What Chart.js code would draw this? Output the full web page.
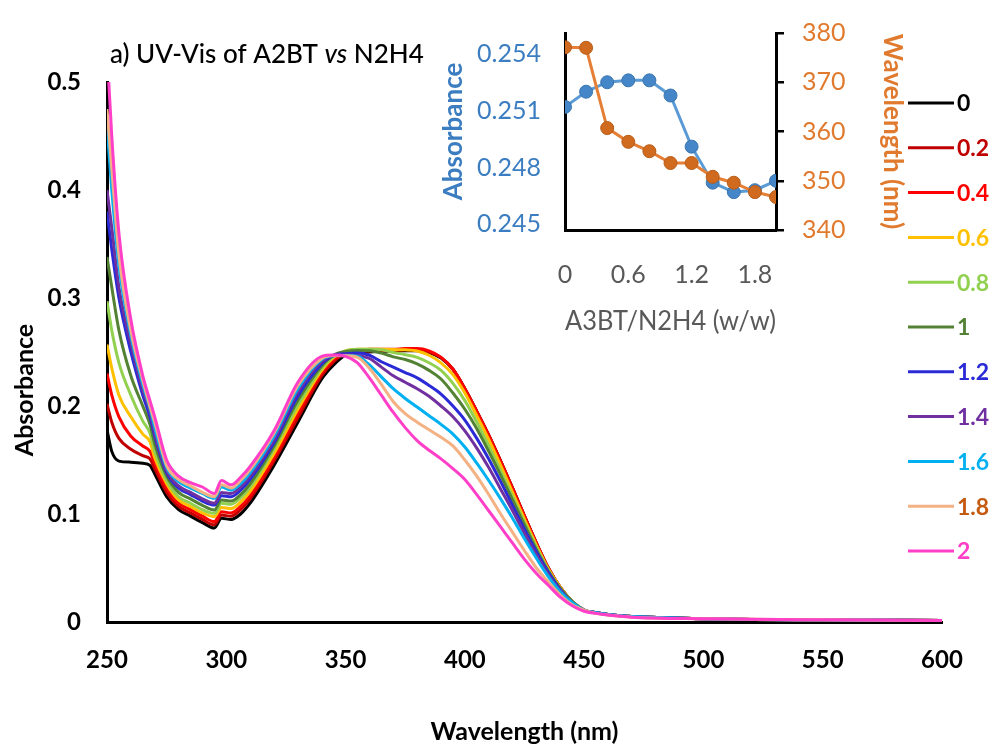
<!DOCTYPE html>
<html>
<head>
<meta charset="utf-8">
<script src="https://cdn.jsdelivr.net/npm/chart.js@4.4.1/dist/chart.umd.min.js"></script>
<style>
  html, body { margin: 0; padding: 0; background: #ffffff; }
  #wrap { position: relative; width: 996px; height: 749px; overflow: hidden; background: #fff; }
  #main { position: absolute; left: 0; top: 0; }
  #inset { position: absolute; left: 430px; top: 10px; }
</style>
</head>
<body>
<div id="wrap">
  <canvas id="main" width="996" height="749"></canvas>
  <canvas id="inset" width="490" height="330"></canvas>
</div>
<script>
// ---------------- DATA ----------------
const wavelengths = [250, 252, 255, 260, 265, 268, 270, 275, 280, 285, 290, 295, 298, 302, 306, 310, 320, 330, 340, 345, 350, 355, 360, 365, 370, 375, 380, 385, 390, 395, 400, 405, 410, 415, 420, 425, 430, 435, 440, 445, 450, 455, 460, 470, 500, 550, 600];

const ratioLabels = ['0', '0.2', '0.4', '0.6', '0.8', '1', '1.2', '1.4', '1.6', '1.8', '2'];

const absRatio0  = [0.178, 0.158, 0.149, 0.148, 0.147, 0.145, 0.137, 0.116, 0.104, 0.098, 0.092, 0.087, 0.096, 0.095, 0.100, 0.110, 0.145, 0.185, 0.225, 0.238, 0.247, 0.249, 0.250, 0.2505, 0.251, 0.2512, 0.2512, 0.2495, 0.2445, 0.234, 0.216, 0.195, 0.173, 0.149, 0.124, 0.098, 0.073, 0.050, 0.032, 0.019, 0.011, 0.0085, 0.007, 0.005, 0.003, 0.002, 0.0015];
const absRatio02 = [0.202, 0.185, 0.170, 0.160, 0.154, 0.151, 0.142, 0.120, 0.107, 0.101, 0.095, 0.090, 0.099, 0.098, 0.104, 0.114, 0.149, 0.189, 0.228, 0.241, 0.249, 0.2505, 0.251, 0.2512, 0.2515, 0.252, 0.252, 0.250, 0.245, 0.234, 0.216, 0.195, 0.173, 0.149, 0.124, 0.098, 0.073, 0.050, 0.032, 0.019, 0.011, 0.0085, 0.007, 0.005, 0.003, 0.002, 0.0015];
const absRatio04 = [0.230, 0.210, 0.190, 0.172, 0.163, 0.158, 0.147, 0.124, 0.110, 0.104, 0.098, 0.093, 0.102, 0.101, 0.107, 0.117, 0.152, 0.193, 0.231, 0.243, 0.2505, 0.2515, 0.2525, 0.2525, 0.2525, 0.2532, 0.2532, 0.251, 0.245, 0.234, 0.216, 0.195, 0.173, 0.149, 0.124, 0.098, 0.073, 0.050, 0.032, 0.019, 0.011, 0.0085, 0.007, 0.005, 0.003, 0.002, 0.0015];
const absRatio06 = [0.257, 0.235, 0.210, 0.190, 0.174, 0.167, 0.152, 0.128, 0.113, 0.107, 0.101, 0.0975, 0.106, 0.105, 0.111, 0.121, 0.156, 0.197, 0.233, 0.245, 0.251, 0.2525, 0.2526, 0.2525, 0.2522, 0.252, 0.251, 0.247, 0.240, 0.229, 0.212, 0.191, 0.169, 0.145, 0.120, 0.095, 0.071, 0.049, 0.032, 0.019, 0.011, 0.0085, 0.007, 0.005, 0.003, 0.002, 0.0015];
const absRatio08 = [0.297, 0.270, 0.240, 0.210, 0.186, 0.175, 0.158, 0.131, 0.116, 0.110, 0.104, 0.1006, 0.110, 0.109, 0.115, 0.125, 0.160, 0.201, 0.235, 0.246, 0.251, 0.2525, 0.2526, 0.252, 0.2495, 0.2475, 0.245, 0.240, 0.233, 0.221, 0.205, 0.185, 0.163, 0.140, 0.116, 0.092, 0.069, 0.048, 0.031, 0.019, 0.011, 0.0085, 0.007, 0.005, 0.003, 0.002, 0.0015];
const absRatio1  = [0.338, 0.310, 0.270, 0.228, 0.200, 0.183, 0.165, 0.135, 0.120, 0.114, 0.108, 0.1037, 0.113, 0.112, 0.118, 0.128, 0.163, 0.205, 0.237, 0.247, 0.2505, 0.2515, 0.2512, 0.249, 0.2455, 0.243, 0.239, 0.233, 0.225, 0.212, 0.197, 0.179, 0.158, 0.136, 0.113, 0.090, 0.067, 0.047, 0.031, 0.019, 0.011, 0.0085, 0.007, 0.005, 0.003, 0.002, 0.0015];
const absRatio12 = [0.380, 0.345, 0.300, 0.250, 0.210, 0.190, 0.172, 0.138, 0.124, 0.118, 0.112, 0.1083, 0.117, 0.116, 0.122, 0.132, 0.166, 0.209, 0.239, 0.247, 0.2485, 0.249, 0.247, 0.241, 0.236, 0.231, 0.226, 0.219, 0.211, 0.200, 0.187, 0.170, 0.151, 0.130, 0.108, 0.086, 0.065, 0.046, 0.030, 0.018, 0.011, 0.0085, 0.007, 0.005, 0.003, 0.002, 0.0015];
const absRatio14 = [0.400, 0.365, 0.310, 0.258, 0.215, 0.195, 0.175, 0.140, 0.126, 0.120, 0.114, 0.110, 0.120, 0.119, 0.125, 0.135, 0.169, 0.213, 0.241, 0.247, 0.2472, 0.2465, 0.244, 0.236, 0.228, 0.222, 0.216, 0.209, 0.200, 0.190, 0.177, 0.161, 0.143, 0.123, 0.103, 0.082, 0.062, 0.044, 0.029, 0.018, 0.011, 0.0085, 0.007, 0.005, 0.003, 0.002, 0.0015];
const absRatio16 = [0.460, 0.400, 0.330, 0.265, 0.220, 0.198, 0.180, 0.143, 0.130, 0.124, 0.119, 0.1145, 0.125, 0.122, 0.128, 0.138, 0.172, 0.216, 0.243, 0.2465, 0.2467, 0.246, 0.238, 0.227, 0.216, 0.207, 0.199, 0.191, 0.183, 0.174, 0.162, 0.147, 0.131, 0.114, 0.096, 0.077, 0.059, 0.042, 0.028, 0.018, 0.011, 0.0085, 0.007, 0.005, 0.003, 0.002, 0.0015];
const absRatio18 = [0.475, 0.420, 0.340, 0.270, 0.224, 0.200, 0.185, 0.145, 0.132, 0.126, 0.120, 0.116, 0.127, 0.124, 0.131, 0.141, 0.175, 0.219, 0.244, 0.2467, 0.2465, 0.245, 0.235, 0.220, 0.204, 0.193, 0.185, 0.178, 0.171, 0.163, 0.150, 0.135, 0.118, 0.100, 0.083, 0.066, 0.050, 0.037, 0.025, 0.016, 0.011, 0.008, 0.0065, 0.0045, 0.003, 0.002, 0.0015];
const absRatio2  = [0.530, 0.450, 0.360, 0.280, 0.228, 0.205, 0.190, 0.150, 0.135, 0.129, 0.125, 0.119, 0.131, 0.127, 0.134, 0.144, 0.177, 0.222, 0.246, 0.2473, 0.246, 0.240, 0.226, 0.210, 0.194, 0.180, 0.168, 0.159, 0.151, 0.142, 0.132, 0.118, 0.103, 0.088, 0.073, 0.058, 0.045, 0.034, 0.023, 0.015, 0.010, 0.008, 0.0065, 0.0045, 0.003, 0.002, 0.0015];

const xTicksMain = [250, 300, 350, 400, 450, 500, 550, 600];
const yTicksMain = [0, 0.1, 0.2, 0.3, 0.4, 0.5];

// inset data
const insetRatio      = [0, 0.2, 0.4, 0.6, 0.8, 1.0, 1.2, 1.4, 1.6, 1.8, 2.0];
const insetAbsorbance = [0.2512, 0.2520, 0.2525, 0.2526, 0.2526, 0.2518, 0.2491, 0.2472, 0.2467, 0.2468, 0.2473];
const insetWavelength = [377.1, 377.0, 360.7, 357.9, 356.0, 353.6, 353.6, 350.8, 349.6, 347.7, 346.7];
const insetXTicks   = [0, 0.6, 1.2, 1.8];
const insetAbsTicks = [0.245, 0.248, 0.251, 0.254];
const insetWlTicks  = [340, 350, 360, 370, 380];

// ---------------- STYLES ----------------
const FONT = 'Lato, "Open Sans", sans-serif';
const allSeries = [absRatio0, absRatio02, absRatio04, absRatio06, absRatio08, absRatio1, absRatio12, absRatio14, absRatio16, absRatio18, absRatio2];
const lineColors = ['#000000', '#c00000', '#ff0000', '#ffc000', '#92d050', '#548235', '#2a2ad6', '#7030a0', '#00b0f0', '#f4b183', '#ff3fc8'];
const textColors = ['#000000', '#c00000', '#ff0000', '#ffc000', '#92d050', '#548235', '#2a2ad6', '#7030a0', '#00b0f0', '#c55a11', '#ff3fc8'];

const annotPlugin = {
  id: 'annot',
  afterDraw(chart) {
    const ctx = chart.ctx;
    ctx.save();
    // title with italic "vs"
    ctx.textBaseline = 'alphabetic';
    ctx.textAlign = 'left';
    ctx.fillStyle = '#000';
    let x = 110;
    const yb = 63;
    const parts = [['a) UV-Vis of A2BT ', 'normal'], ['vs', 'italic'], [' N2H4', 'normal']];
    for (const [t, st] of parts) {
      ctx.font = st + ' 500 26px ' + FONT;
      ctx.fillText(t, x, yb);
      x += ctx.measureText(t).width;
    }
    // y axis title
    ctx.save();
    ctx.translate(25, 390);
    ctx.rotate(-Math.PI / 2);
    ctx.textAlign = 'center';
    ctx.textBaseline = 'middle';
    ctx.font = 'bold 25px ' + FONT;
    ctx.fillText('Absorbance', 0, 0);
    ctx.restore();
    // legend
    ctx.font = 'bold 23px ' + FONT;
    ctx.textBaseline = 'middle';
    for (let i = 0; i < ratioLabels.length; i++) {
      const y = 103 + i * 44.8;
      ctx.strokeStyle = lineColors[i];
      ctx.lineWidth = 3;
      ctx.beginPath();
      ctx.moveTo(908, y);
      ctx.lineTo(954, y);
      ctx.stroke();
      ctx.fillStyle = textColors[i];
      ctx.fillText(ratioLabels[i], 957, y + 1);
    }
    ctx.restore();
  }
};

new Chart(document.getElementById('main'), {
  type: 'line',
  data: {
    datasets: allSeries.map((s, i) => ({
      label: ratioLabels[i],
      data: wavelengths.map((w, j) => ({ x: w, y: s[j] })),
      borderColor: lineColors[i],
      backgroundColor: lineColors[i],
      borderWidth: 3,
      pointRadius: 0,
      fill: false,
      cubicInterpolationMode: 'monotone',
      order: allSeries.length - i
    }))
  },
  options: {
    responsive: false,
    animation: false,
    layout: { padding: { top: 82, right: 54, left: 0, bottom: 0 } },
    plugins: { legend: { display: false }, tooltip: { enabled: false }, title: { display: false } },
    scales: {
      x: {
        type: 'linear', min: 250, max: 600,
        afterBuildTicks(s) { s.ticks = xTicksMain.map(v => ({ value: v })); },
        ticks: { color: '#000', font: { family: FONT, size: 24, weight: 'bold' }, padding: 24, maxRotation: 0 },
        grid: { display: false, drawTicks: false },
        border: { display: true, color: '#000', width: 3 },
        title: { display: true, text: 'Wavelength (nm)', color: '#000', font: { family: FONT, size: 25, weight: 'bold' }, padding: { top: 0, bottom: 2 } },
        afterFit(s) { s.height = 127; }
      },
      y: {
        min: 0, max: 0.5,
        afterBuildTicks(s) { s.ticks = yTicksMain.map(v => ({ value: v })); },
        ticks: { color: '#000', font: { family: FONT, size: 24, weight: 'bold' }, padding: 26 },
        grid: { display: false, drawTicks: false },
        border: { display: true, color: '#000', width: 3 },
        afterFit(s) { s.width = 107; }
      }
    }
  },
  plugins: [annotPlugin]
});

// ---------------- INSET ----------------
const blueTxt = '#3b7dc0';
const orangeTxt = '#e07a2e';
function noVPad(s) { s.paddingTop = 0; s.paddingBottom = 0; }
new Chart(document.getElementById('inset'), {
  type: 'line',
  data: {
    datasets: [
      {
        label: 'Wavelength (nm)',
        data: insetRatio.map((r, i) => ({ x: r, y: insetWavelength[i] })),
        yAxisID: 'y2',
        borderColor: '#e57f35',
        backgroundColor: '#cf6a1f',
        pointBorderColor: '#b85c18',
        pointBorderWidth: 1,
        pointRadius: 6.5,
        borderWidth: 3,
        tension: 0,
        order: 1
      },
      {
        label: 'Absorbance',
        data: insetRatio.map((r, i) => ({ x: r, y: insetAbsorbance[i] })),
        yAxisID: 'y',
        borderColor: '#5b9bd5',
        backgroundColor: '#4586c8',
        pointBorderColor: '#3a75b0',
        pointBorderWidth: 1,
        pointRadius: 6.5,
        borderWidth: 3,
        tension: 0,
        order: 2
      }
    ]
  },
  options: {
    responsive: false,
    animation: false,
    layout: { padding: { top: 23, left: 0, right: 0, bottom: 0 } },
    plugins: { legend: { display: false }, tooltip: { enabled: false } },
    scales: {
      x: {
        type: 'linear', min: 0, max: 2,
        afterBuildTicks(s) { s.ticks = insetXTicks.map(v => ({ value: v })); },
        ticks: { color: '#595959', font: { family: FONT, size: 25 }, padding: 30, maxRotation: 0, callback: v => String(v) },
        grid: { display: false, drawTicks: false },
        border: { display: true, color: '#000', width: 3 },
        title: { display: true, text: 'A3BT/N2H4 (w/w)', color: '#595959', font: { family: FONT, size: 26 }, padding: { top: 0, bottom: 3 } },
        afterFit(s) { s.height = 110; }
      },
      y: {
        position: 'left', min: 0.2447, max: 0.2551,
        afterBuildTicks(s) { s.ticks = insetAbsTicks.map(v => ({ value: v })); },
        ticks: { color: blueTxt, font: { family: FONT, size: 25 }, padding: 24, callback: v => Number(v).toFixed(3) },
        grid: { display: false, drawTicks: false },
        border: { display: true, color: '#000', width: 3 },
        title: { display: true, text: 'Absorbance', color: blueTxt, font: { family: FONT, size: 26, weight: 'bold' }, padding: { top: 8, bottom: 0 } },
        afterFit(s) { s.width = 135; noVPad(s); }
      },
      y2: {
        position: 'right', min: 340, max: 380,
        afterBuildTicks(s) { s.ticks = insetWlTicks.map(v => ({ value: v })); },
        ticks: { color: orangeTxt, font: { family: FONT, size: 25 }, padding: 18 },
        grid: { display: true, drawOnChartArea: false, drawTicks: true, tickLength: 8, color: '#000', lineWidth: 2.5 },
        border: { display: true, color: '#000', width: 3 },
        title: { display: true, text: 'Wavelength (nm)', color: orangeTxt, font: { family: FONT, size: 26, weight: 'bold' }, padding: { top: 12, bottom: 0 } },
        afterFit(s) { s.width = 144; noVPad(s); }
      }
    }
  }
});
</script>
</body>
</html>
